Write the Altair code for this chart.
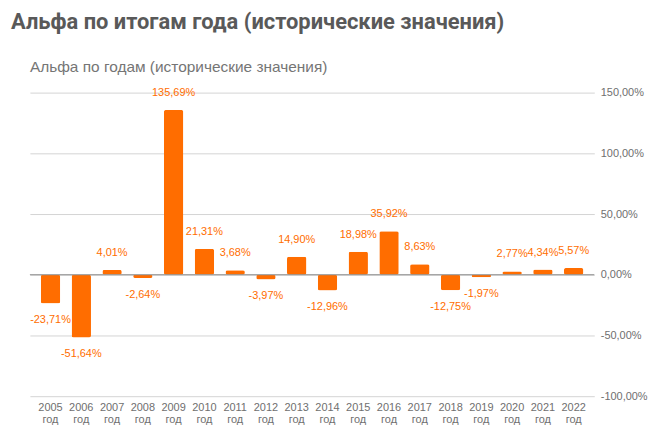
import altair as alt
import pandas as pd

years = ["2005 год", "2006 год", "2007 год", "2008 год", "2009 год", "2010 год",
         "2011 год", "2012 год", "2013 год", "2014 год", "2015 год", "2016 год",
         "2017 год", "2018 год", "2019 год", "2020 год", "2021 год", "2022 год"]
alpha = [-23.71, -51.64, 4.01, -2.64, 135.69, 21.31, 3.68, -3.97, 14.90, -12.96,
         18.98, 35.92, 8.63, -12.75, -1.97, 2.77, 4.34, 5.57]
y_ticks = [-100, -50, 0, 50, 100, 150]
main_title = ["Альфа по итогам года (исторические значения)"]
sub_title = ["Альфа по годам (исторические значения)"]

df = pd.DataFrame({"year": years, "alpha": alpha})

ORANGE = "#FF6D00"
FONT = "Liberation Sans"
fmt = "replace(replace(format(datum.alpha, '.2f'), '.', ','), '\u2212', '-') + '%'"

x_enc = alt.X("year:N", sort=years,
              scale=alt.Scale(paddingInner=0.37, paddingOuter=0.355),
              axis=alt.Axis(title=None, labelAngle=0, domain=False, ticks=False, grid=False,
                            labelExpr="split(datum.label, ' ')", labelFont=FONT,
                            labelFontSize=11, labelColor="#6f6f6f", labelPadding=5,
                            labelLineHeight=12))
y_scale = alt.Scale(domain=[-100, 150], nice=False)
y_enc = alt.Y("alpha:Q", scale=y_scale,
              axis=alt.Axis(title=None, orient="right", values=y_ticks, domain=False,
                            ticks=False, gridColor="#d4d4d4", gridWidth=1,
                            labelExpr="replace(replace(format(datum.value, '.2f'), '.', ','), '\u2212', '-') + '%'",
                            labelFont=FONT, labelFontSize=11, labelColor="#6f6f6f",
                            labelPadding=6))

base = alt.Chart(df)

bars = base.mark_bar(color=ORANGE, cornerRadius=2).encode(x=x_enc, y=y_enc)

pos_labels = base.transform_filter("datum.alpha >= 0").transform_calculate(
    lbl=fmt).mark_text(color=ORANGE, font=FONT, fontSize=11, baseline="middle",
                       dy=-17).encode(x=alt.X("year:N", sort=years),
                                      y=alt.Y("alpha:Q", scale=y_scale), text="lbl:N")
neg_labels = base.transform_filter("datum.alpha < 0").transform_calculate(
    lbl=fmt).mark_text(color=ORANGE, font=FONT, fontSize=11, baseline="middle",
                       dy=17).encode(x=alt.X("year:N", sort=years),
                                     y=alt.Y("alpha:Q", scale=y_scale), text="lbl:N")

zero = alt.Chart(pd.DataFrame({"z": [0]})).mark_rule(color="#8c8c8c", strokeWidth=1.2).encode(
    y=alt.Y("z:Q", scale=y_scale))

title_t = alt.Chart(pd.DataFrame({"t": main_title})).mark_text(
    font="Roboto", fontSize=22, fontWeight="bold", color="#595959", align="left",
    baseline="alphabetic").encode(text="t:N", x=alt.value(-19), y=alt.value(-64))
sub_t = alt.Chart(pd.DataFrame({"t": sub_title})).mark_text(
    font=FONT, fontSize=15.5, color="#757575", align="left",
    baseline="alphabetic").encode(text="t:N", x=alt.value(0), y=alt.value(-21))

chart = alt.layer(bars, zero, pos_labels, neg_labels, title_t, sub_t).properties(
    width=567, height=305,
    background="white",
    autosize=alt.AutoSizeParams(type="none"),
    padding={"left": 22, "top": 84, "right": 60, "bottom": 40},
).configure_view(stroke=None)

chart.save("out.html", embed_options={"renderer": "svg", "actions": False})
